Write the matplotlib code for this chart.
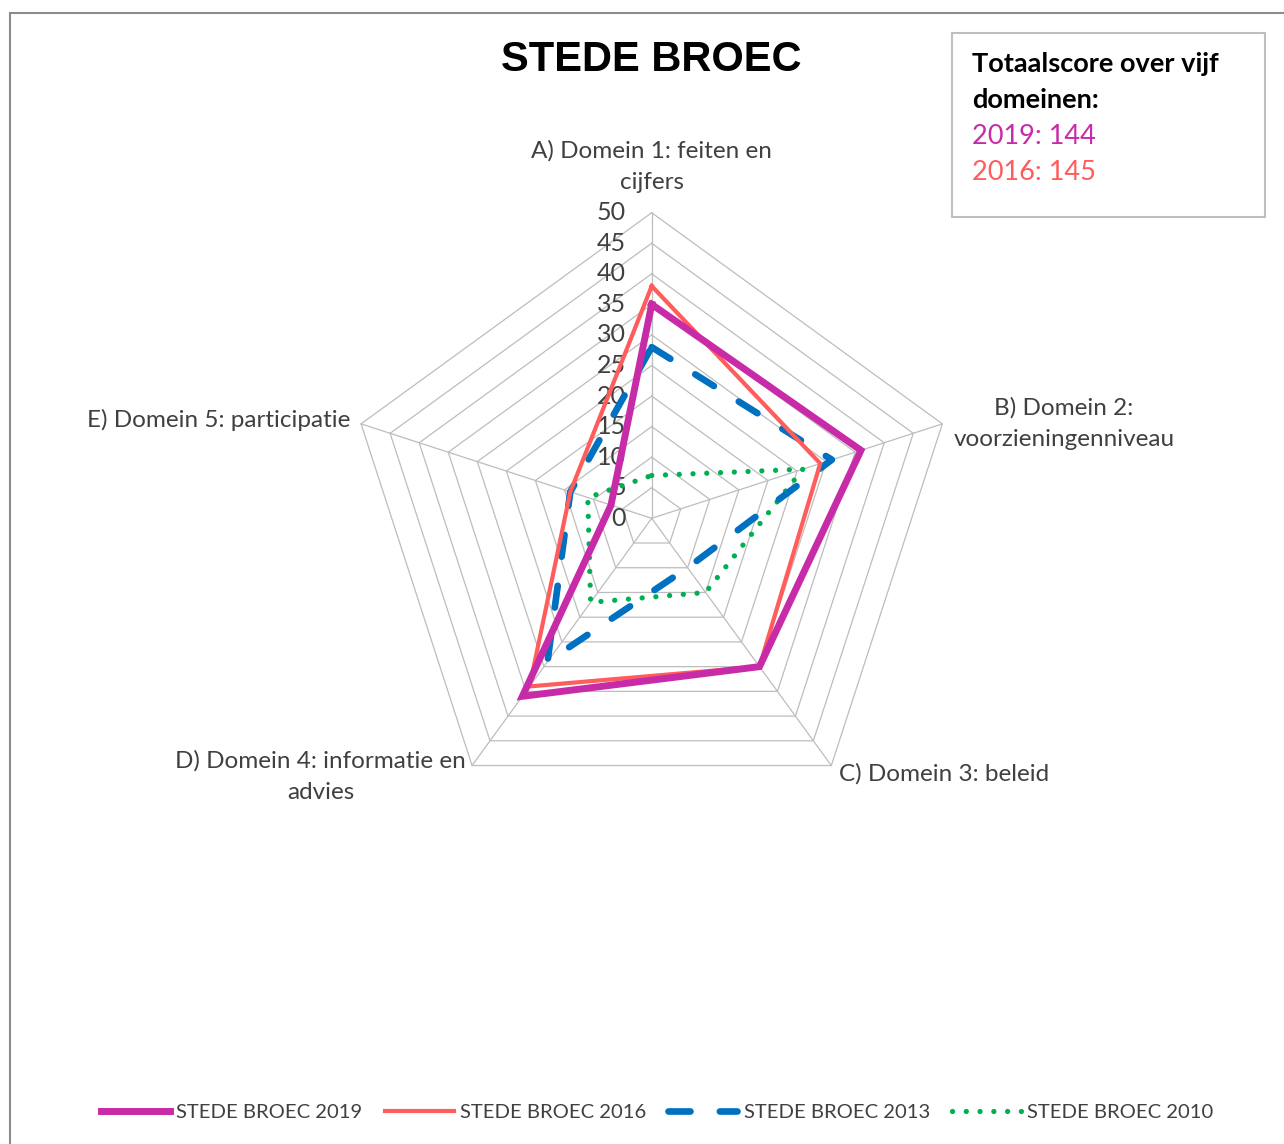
import numpy as np
import matplotlib
matplotlib.use("Agg")
import matplotlib.pyplot as plt
from matplotlib.patches import Rectangle
from matplotlib.lines import Line2D

domains = ["A) Domein 1: feiten en\ncijfers",
           "B) Domein 2:\nvoorzieningenniveau",
           "C) Domein 3: beleid",
           "D) Domein 4: informatie en\nadvies",
           "E) Domein 5: participatie"]
series_names = ["STEDE BROEC 2019", "STEDE BROEC 2016",
                "STEDE BROEC 2013", "STEDE BROEC 2010"]
scores_2019 = [35, 36, 30, 36, 7]
scores_2016 = [38, 29, 30, 34, 14]
scores_2013 = [28, 31, 10, 29, 14]
scores_2010 = [7, 26, 15, 17, 11]
ticks = [0, 5, 10, 15, 20, 25, 30, 35, 40, 45, 50]
totals = [("2019", 144), ("2016", 145)]

col_2019 = "#C82BA8"
col_2016 = "#FF5C5C"
col_2013 = "#0070C0"
col_2010 = "#00B050"
grid_col = "#BDBDBD"
txt_col = "#404040"

W, H = 1284, 1144
cx, cy = 651.7, 518.3   # pixel centre of the radar
ppu = 305.6 / 50        # pixels per score unit

fig = plt.figure(figsize=(W / 100, H / 100), dpi=100)
ax = fig.add_axes([0, 0, 1, 1])
ax.set_xlim(-cx / ppu, (W - cx) / ppu)
ax.set_ylim(-(H - cy) / ppu, cy / ppu)
ax.axis("off")

ang = np.deg2rad(90 - 72 * np.arange(len(domains)))


def xy(vals):
    v = np.asarray(vals, dtype=float)
    x = v * np.cos(ang)
    y = v * np.sin(ang)
    return np.append(x, x[0]), np.append(y, y[0])


# grid
for t in ticks[1:]:
    gx, gy = xy([t] * 5)
    ax.plot(gx, gy, color=grid_col, lw=0.9, zorder=1)
for a in ang:
    ax.plot([0, 50 * np.cos(a)], [0, 50 * np.sin(a)], color=grid_col, lw=0.9, zorder=1)

for t in ticks:
    ax.text(-4.2, t, str(t), ha="right", va="center", fontsize=18,
            family="Lato", color=txt_col, zorder=2)

# series
x, y = xy(scores_2010)
ax.plot(x, y, color=col_2010, lw=3.8, dashes=(0.01, 2.6),
        dash_capstyle="round", zorder=3)
x, y = xy(scores_2013)
ax.plot(x, y, color=col_2013, lw=4.8, dashes=(3.3, 4.4),
        dash_capstyle="round", zorder=4)
x, y = xy(scores_2016)
ax.plot(x, y, color=col_2016, lw=3.0, solid_joinstyle="miter", zorder=5)
x, y = xy(scores_2019)
ax.plot(x, y, color=col_2019, lw=5.0, solid_joinstyle="miter", zorder=6)

# axis labels
lab_kw = dict(fontsize=17.5, family="Lato", color=txt_col, multialignment="center",
              linespacing=1.6)
r = 50
ax.text(0, r + 3.3, domains[0], ha="center", va="bottom", **lab_kw)
ax.text(r * np.cos(ang[1]) + 1.8, r * np.sin(ang[1]), domains[1],
        ha="left", va="center", **lab_kw)
ax.text(r * np.cos(ang[2]) + 1.2, r * np.sin(ang[2]) - 1.3, domains[2],
        ha="left", va="center", **lab_kw)
ax.text(r * np.cos(ang[3]) - 1.0, r * np.sin(ang[3]) - 1.8, domains[3],
        ha="right", va="center", **lab_kw)
ax.text(r * np.cos(ang[4]) - 1.8, r * np.sin(ang[4]) + 0.6, domains[4],
        ha="right", va="center", **lab_kw)

# title
fig.text(cx / W, 1 - 60 / H, "STEDE BROEC", ha="center", va="center",
         fontsize=30, fontweight="bold", family="Liberation Sans")

# total score box
fig.patches.append(Rectangle((952 / W, 1 - 217 / H), 313 / W, 184 / H,
                             transform=fig.transFigure, fill=False,
                             edgecolor="#BFBFBF", lw=1.5))
box_lines = [("Totaalscore over vijf", "black", "bold"),
             ("domeinen:", "black", "bold"),
             (f"{totals[0][0]}: {totals[0][1]}", col_2019, "normal"),
             (f"{totals[1][0]}: {totals[1][1]}", col_2016, "normal")]
for i, (s, c, w) in enumerate(box_lines):
    fig.text(972 / W, 1 - (64 + 36 * i) / H, s, ha="left", va="center",
             fontsize=19.5, fontweight=w, family="Lato", color=c)

# outer border
fig.patches.append(Rectangle((10 / W, -0.01), 1.02, 1 - 13 / H + 0.01,
                             transform=fig.transFigure, fill=False,
                             edgecolor="#8C8C8C", lw=1.5))

# legend
handles = [
    Line2D([], [], color=col_2019, lw=5.0),
    Line2D([], [], color=col_2016, lw=3.0),
    Line2D([], [], color=col_2013, lw=4.8, dashes=(3.3, 4.4), dash_capstyle="round"),
    Line2D([], [], color=col_2010, lw=3.8, dashes=(0.01, 2.6), dash_capstyle="round"),
]
leg = fig.legend(handles, series_names, loc="center", bbox_to_anchor=(0.512, 1 - 1112 / H),
                 ncol=4, frameon=False, handlelength=3.4, handletextpad=0.3,
                 columnspacing=1.1, prop={"family": "Lato", "size": 14.6})
for t in leg.get_texts():
    t.set_color(txt_col)

fig.savefig("out.png", dpi=100)
